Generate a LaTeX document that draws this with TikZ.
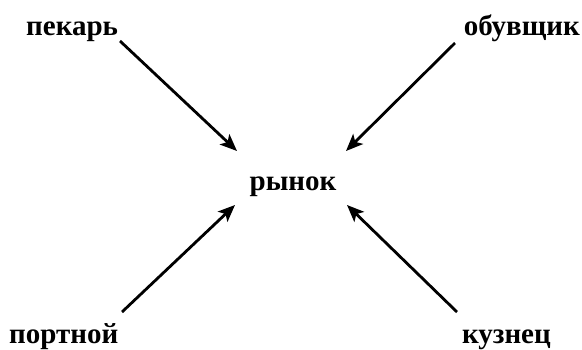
\documentclass[tikz,border=0pt]{standalone}
\usepackage{fontspec}
\setmainfont{Liberation Serif}
\usetikzlibrary{arrows.meta}
\begin{document}
\begin{tikzpicture}[x=1pt,y=-1pt,
  lbl/.style={font=\bfseries\fontsize{29}{34}\selectfont, inner sep=0pt, anchor=base},
  arr/.style={line width=2.8pt, -{Stealth[length=17pt,width=14pt,inset=4pt]}}]
\useasboundingbox (0,0) rectangle (582,349);
\node[lbl, anchor=base west] (pek) at (26,35) {пекарь};
\node[lbl, anchor=base east] (obu) at (580,35) {обувщик};
\node[lbl] (ryn) at (293,190) {рынок};
\node[lbl, anchor=base west] (por) at (9,343) {портной};
\node[lbl, anchor=base east] (kuz) at (551,343) {кузнец};
\coordinate (a1) at (120,41);
\coordinate (b1) at (237,151);
\coordinate (a2) at (455,43);
\coordinate (b2) at (346,151);
\coordinate (a3) at (122,312);
\coordinate (b3) at (235,205);
\coordinate (a4) at (457,312);
\coordinate (b4) at (347,205);
\draw[arr] (a1) -- (b1);
\draw[arr] (a2) -- (b2);
\draw[arr] (a3) -- (b3);
\draw[arr] (a4) -- (b4);
\end{tikzpicture}
\end{document}
